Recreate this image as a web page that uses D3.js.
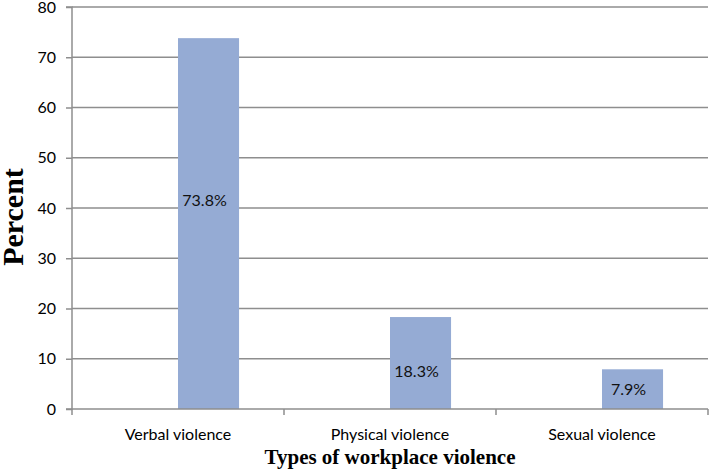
<!DOCTYPE html>
<html><head><meta charset="utf-8">
<script src="https://cdn.jsdelivr.net/npm/d3@7/dist/d3.min.js"></script>
<style>html,body{margin:0;padding:0;background:#fff;}</style>
</head><body>
<svg id="chart" width="709" height="470"></svg>
<script>
const categories = ["Verbal violence", "Physical violence", "Sexual violence"];
const percents = [73.8, 18.3, 7.9];
const valueLabels = ["73.8%", "18.3%", "7.9%"];
const labelAnchor = [41.5, 7.4, 3.95];
const yTicks = [0, 10, 20, 30, 40, 50, 60, 70, 80];

(function () {
const svg = d3.select("#chart");
const mLeft = 72, mRight = 708, mTop = 7, mBottom = 409;
const x = d3.scaleBand().domain(categories).range([mLeft, mRight]).padding(0);
const y = d3.scaleLinear().domain([0, 80]).range([mBottom, mTop]);
const grid = "#8e8e8e";
const tickFont = "Lato, 'Open Sans', sans-serif";

// gridlines
svg.append("g").selectAll("line").data(yTicks.filter(d => d > 0)).join("line")
  .attr("x1", mLeft).attr("x2", mRight)
  .attr("y1", d => y(d)).attr("y2", d => y(d))
  .attr("stroke", grid).attr("stroke-width", 1.5);

// bars
const bw = x.bandwidth() * 0.288;
svg.append("g").selectAll("rect").data(categories).join("rect")
  .attr("x", c => x(c) + x.bandwidth() / 2)
  .attr("width", bw)
  .attr("y", (c, i) => y(percents[i]))
  .attr("height", (c, i) => y(0) - y(percents[i]))
  .attr("fill", "#95abd4");

// y axis
const yAxis = d3.axisLeft(y).tickValues(yTicks).tickSize(6).tickPadding(10);
const gy = svg.append("g").attr("transform", `translate(${mLeft},0)`).call(yAxis);
gy.select(".domain").attr("stroke", grid).attr("stroke-width", 1.5).attr("d", `M-6,${mTop}H0V${mBottom}H-6`);
gy.selectAll(".tick line").attr("stroke", grid).attr("stroke-width", 1.5);
gy.selectAll(".tick text").attr("font-family", tickFont).attr("font-size", 16).attr("fill", "#000");

// x axis
const xAxis = d3.axisBottom(x).tickSize(0).tickPadding(20);
const gx = svg.append("g").attr("transform", `translate(0,${mBottom})`).call(xAxis);
gx.select(".domain").attr("stroke", grid).attr("stroke-width", 1.5).attr("d", `M${mLeft},0H${mRight}`);
gx.selectAll(".tick text").attr("font-family", tickFont).attr("font-size", 16).attr("fill", "#000");
const bounds = categories.map(c => x(c)).concat([mRight]);
gx.append("g").selectAll("line").data(bounds).join("line")
  .attr("x1", d => d).attr("x2", d => d).attr("y1", 0).attr("y2", 6)
  .attr("stroke", grid).attr("stroke-width", 1.5);

// value labels
svg.append("g").selectAll("text").data(categories).join("text")
  .attr("x", c => x(c) + x.bandwidth() / 2 + bw / 2 - 4)
  .attr("y", (c, i) => y(labelAnchor[i]))
  .attr("dy", "0.35em")
  .attr("text-anchor", "middle")
  .attr("font-family", tickFont).attr("font-size", 16).attr("fill", "#111")
  .text((c, i) => valueLabels[i]);

// titles
svg.append("text")
  .attr("transform", `translate(23,${(mTop + mBottom) / 2 + 9}) rotate(-90)`)
  .attr("text-anchor", "middle")
  .attr("font-family", "'Liberation Serif', 'Times New Roman', serif")
  .attr("font-weight", "bold").attr("font-size", 30).attr("fill", "#000")
  .text("Percent");
svg.append("text")
  .attr("x", 390).attr("y", 464)
  .attr("text-anchor", "middle")
  .attr("font-family", "'Liberation Serif', 'Times New Roman', serif")
  .attr("font-weight", "bold").attr("font-size", 21).attr("fill", "#000")
  .text("Types of workplace violence");
})();
</script>
</body></html>
